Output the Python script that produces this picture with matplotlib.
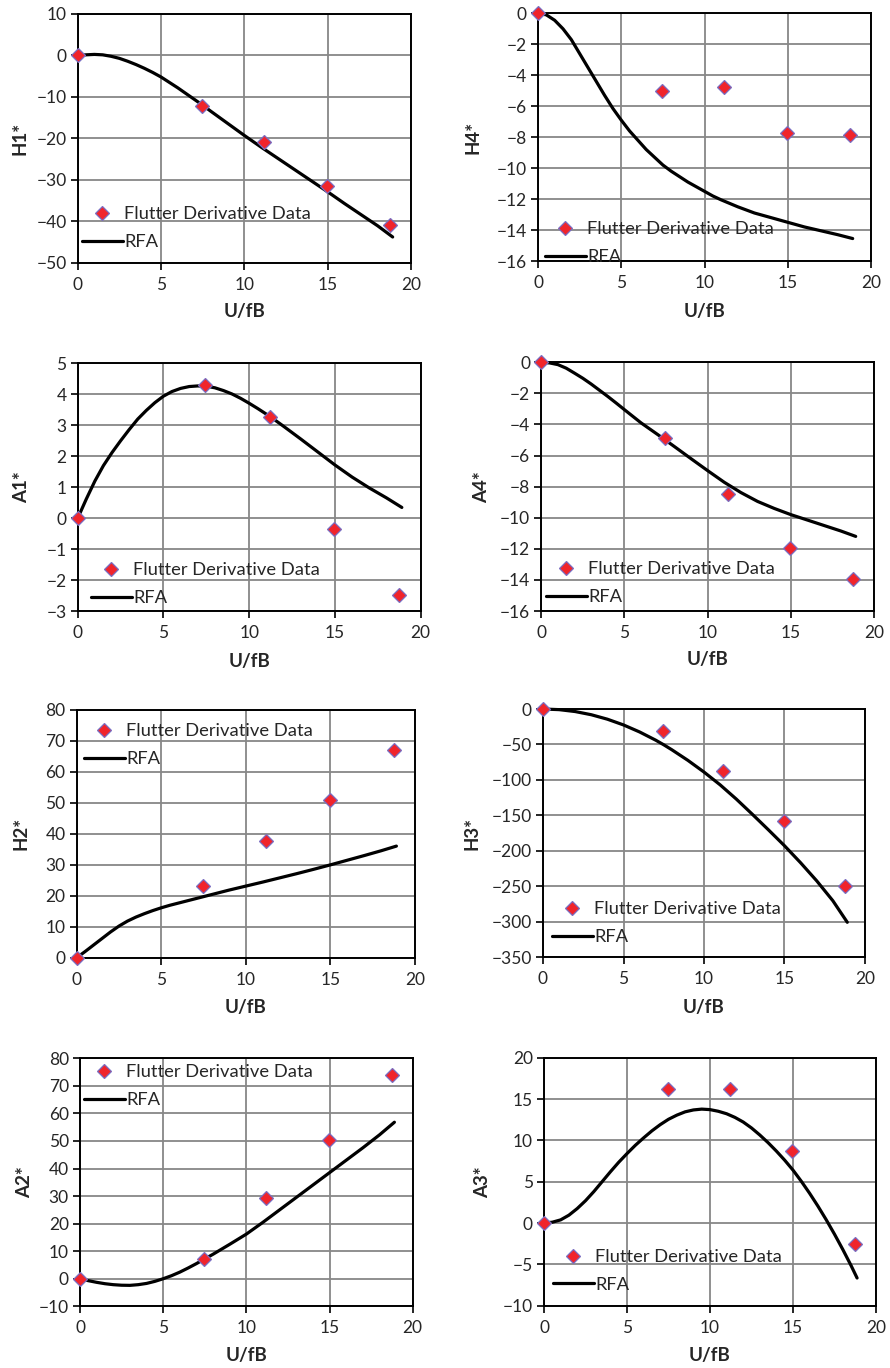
import matplotlib
matplotlib.use("Agg")
import matplotlib.pyplot as plt

plt.rcParams['font.family'] = ['Lato', 'DejaVu Sans']

# ---------------- data ----------------
x_data = [0, 7.45, 11.2, 14.95, 18.73]

h1_data = [0, -12.3, -20.8, -31.5, -41.0]
h1_rfa_x = [0, 0.5, 1, 1.5, 2, 2.5, 3, 3.5, 4, 4.5, 5, 5.5, 6, 6.5, 7, 7.5, 8, 9, 10,
            11, 12, 13, 14, 15, 16, 17, 18, 18.9]
h1_rfa_y = [0, 0.15, 0.25, 0.15, -0.2, -0.7, -1.4, -2.2, -3.1, -4.1, -5.2, -6.5, -7.8,
            -9.2, -10.6, -12.0, -13.5, -16.4, -19.3, -22.1, -24.8, -27.5, -30.2, -32.9,
            -35.7, -38.4, -41.1, -43.8]

h4_data = [0, -5.05, -4.75, -7.74, -7.89]
h4_rfa_x = [0, 0.5, 1, 1.5, 2, 2.5, 3, 3.5, 4, 4.5, 5, 5.5, 6, 6.5, 7, 7.5, 8, 8.5, 9,
            9.5, 10, 10.5, 11, 12, 13, 14, 15, 16, 17, 18, 18.9]
h4_rfa_y = [0, -0.1, -0.45, -1.0, -1.7, -2.6, -3.5, -4.4, -5.3, -6.15, -6.9, -7.6,
            -8.2, -8.8, -9.3, -9.8, -10.2, -10.55, -10.9, -11.2, -11.5, -11.8, -12.05,
            -12.5, -12.9, -13.2, -13.5, -13.8, -14.05, -14.3, -14.55]

a1_data = [0, 4.31, 3.28, -0.34, -2.48]
a1_rfa_x = [0, 0.5, 1, 1.5, 2, 2.5, 3, 3.5, 4, 4.5, 5, 5.5, 6, 6.5, 7, 7.5, 8, 8.5, 9,
            9.5, 10, 10.5, 11, 11.5, 12, 13, 14, 15, 16, 17, 18, 18.9]
a1_rfa_y = [0, 0.62, 1.2, 1.7, 2.12, 2.5, 2.86, 3.2, 3.48, 3.73, 3.94, 4.09, 4.19,
            4.25, 4.27, 4.26, 4.21, 4.12, 4.01, 3.87, 3.71, 3.54, 3.36, 3.17, 2.97, 2.56,
            2.14, 1.72, 1.33, 0.98, 0.66, 0.35]

a4_data = [0, -4.85, -8.48, -11.95, -13.97]
a4_rfa_x = [0, 0.5, 1, 1.5, 2, 2.5, 3, 3.5, 4, 4.5, 5, 6, 7, 8, 9, 10, 11, 12, 13, 14,
            15, 16, 17, 18, 18.9]
a4_rfa_y = [0, -0.04, -0.15, -0.38, -0.7, -1.03, -1.4, -1.8, -2.2, -2.62, -3.05, -3.9,
            -4.65, -5.42, -6.2, -6.97, -7.72, -8.38, -8.95, -9.4, -9.8, -10.15, -10.5,
            -10.85, -11.2]

h2_data = [0, 23.1, 37.7, 50.75, 67.0]
h2_rfa_x = [0, 0.5, 1, 1.5, 2, 2.5, 3, 3.5, 4, 4.5, 5, 5.5, 6, 6.5, 7, 7.5, 8, 9, 10,
            11, 12, 13, 14, 15, 16, 17, 18, 18.9]
h2_rfa_y = [0, 2.0, 4.1, 6.2, 8.3, 10.2, 11.8, 13.1, 14.2, 15.2, 16.1, 16.9, 17.6,
            18.3, 19.0, 19.7, 20.4, 21.8, 23.1, 24.4, 25.75, 27.1, 28.5, 29.95, 31.45,
            32.95, 34.5, 36.0]

h3_data = [0, -31, -87, -158.5, -249.8]
h3_rfa_x = [0, 1, 2, 3, 4, 5, 6, 7, 7.5, 8, 9, 10, 11, 12, 13, 14, 15, 16, 17, 18, 18.9]
h3_rfa_y = [0, -0.9, -3.6, -8.1, -14.4, -22.5, -32.4, -44, -50.5, -57.5, -72.5, -89,
            -107, -127, -148.5, -170.5, -193, -217, -242.5, -270.5, -301]

a2_data = [0, 7.1, 29.4, 50.4, 74.0]
a2_rfa_x = [0, 0.5, 1, 1.5, 2, 2.5, 3, 3.5, 4, 4.5, 5, 5.5, 6, 6.5, 7, 7.5, 8, 9, 10,
            11, 12, 13, 14, 15, 16, 17, 18, 18.9]
a2_rfa_y = [0, -0.7, -1.3, -1.8, -2.15, -2.35, -2.4, -2.15, -1.7, -0.95, 0, 1.1, 2.4,
            3.9, 5.5, 7.2, 8.9, 12.5, 16.2, 20.5, 25.0, 29.5, 34.0, 38.5, 43.0, 47.5,
            52.2, 56.8]

a3_data = [0, 16.17, 16.17, 8.67, -2.5]
a3_rfa_x = [0, 0.5, 1, 1.5, 2, 2.5, 3, 3.5, 4, 4.5, 5, 5.5, 6, 6.5, 7, 7.5, 8, 8.5, 9,
            9.5, 10, 10.5, 11, 11.5, 12, 12.5, 13, 13.5, 14, 14.5, 15, 15.5, 16, 16.5,
            17, 17.5, 18, 18.5, 18.86]
a3_rfa_y = [0, 0.1, 0.38, 0.95, 1.75, 2.7, 3.8, 5.0, 6.2, 7.35, 8.4, 9.4, 10.3, 11.15,
            11.9, 12.55, 13.05, 13.45, 13.68, 13.78, 13.72, 13.52, 13.22, 12.78, 12.22,
            11.5, 10.65, 9.72, 8.7, 7.6, 6.4, 5.05, 3.6, 2.05, 0.4, -1.35, -3.2, -5.15,
            -6.65]

x_ticks = [0, 5, 10, 15, 20]
legend_labels = ["Flutter Derivative Data", "RFA"]

# ---------------- layout ----------------
W, H = 890, 1368
fig = plt.figure(figsize=(W / 100, H / 100), dpi=100)

def px_axes(x0, x1, y0, y1):
    return fig.add_axes([x0 / W, 1 - y1 / H, (x1 - x0) / W, (y1 - y0) / H])

panels = [
    ("H1*", h1_data, h1_rfa_x, h1_rfa_y, (-50, 10), 10, (77.7, 411, 14, 262.7), 20, 312, (102, 213)),
    ("H4*", h4_data, h4_rfa_x, h4_rfa_y, (-16, 0), 2, (538, 871, 13.3, 261), 473, 312, (565, 228)),
    ("A1*", a1_data, a1_rfa_x, a1_rfa_y, (-3, 5), 1, (77.7, 420.7, 363.3, 611.3), 22, 662, (111, 569)),
    ("A4*", a4_data, a4_rfa_x, a4_rfa_y, (-16, 0), 2, (541.3, 874, 362.3, 611), 482, 660, (566, 568)),
    ("H2*", h2_data, h2_rfa_x, h2_rfa_y, (0, 80), 10, (76.7, 415, 709.7, 957.7), 21, 1008, (104, 730)),
    ("H3*", h3_data, h3_rfa_x, h3_rfa_y, (-350, 0), 50, (543, 865, 709, 957), 472, 1008, (572, 908)),
    ("A2*", a2_data, a2_rfa_x, a2_rfa_y, (-10, 80), 10, (80, 412.7, 1058.3, 1306.3), 25, 1356, (104, 1071)),
    ("A3*", a3_data, a3_rfa_x, a3_rfa_y, (-10, 20), 5, (544, 876, 1057.7, 1305.7), 483, 1356, (573, 1256)),
]

grid_col = "#878787"
txt_col = "#262626"
fs = 12.5
lfs = 13.2
lab_fs = 13.5

for name, data, rx, ry, ylim, ystep, box, ylx, xly, leg in panels:
    x0, x1, y0, y1 = box
    ax = px_axes(x0, x1, y0, y1)
    ax.set_xlim(0, 20)
    ax.set_ylim(*ylim)
    ax.set_xticks(x_ticks)
    yt = list(range(int(ylim[0]), int(ylim[1]) + 1, ystep))
    ax.set_yticks(yt)
    ax.grid(True, color=grid_col, linewidth=1.3, zorder=0)
    ax.set_axisbelow(True)
    for s in ax.spines.values():
        s.set_color("black")
        s.set_linewidth(1.4)
    ax.tick_params(direction="out", length=5, width=1.2, color="black",
                   labelsize=fs, labelcolor=txt_col, pad=3)
    ax.tick_params(axis="x", pad=5)
    ln, = ax.plot(rx, ry, color="black", linewidth=2.3, zorder=3, clip_on=False,
                  solid_joinstyle="round", solid_capstyle="round")
    sc, = ax.plot(x_data, data, linestyle="none", marker="D", markersize=7,
                  markerfacecolor="#f0242b", markeredgecolor="#7a6ec2",
                  markeredgewidth=0.9, zorder=4, clip_on=False)
    ax.set_ylabel(name, fontsize=lab_fs, fontweight="bold", color=txt_col, va="center")
    ax.yaxis.set_label_coords((ylx - x0) / (x1 - x0), 0.5)
    ax.set_xlabel("U/fB", fontsize=lab_fs, fontweight="bold", color=txt_col, va="center")
    ax.xaxis.set_label_coords(0.5, 1 - (xly - y0) / (y1 - y0))
    mx, my = leg
    hl_px = 41
    ax.legend([sc, ln], legend_labels, loc="upper left",
              bbox_to_anchor=((mx - hl_px / 2) / W, 1 - (my - 7) / H),
              bbox_transform=fig.transFigure, frameon=False,
              fontsize=lfs, handlelength=hl_px / (lfs * 100 / 72),
              handletextpad=0.1, borderpad=0, borderaxespad=0,
              labelspacing=0.65, numpoints=1, labelcolor=txt_col)

fig.savefig("out.png", dpi=100)
